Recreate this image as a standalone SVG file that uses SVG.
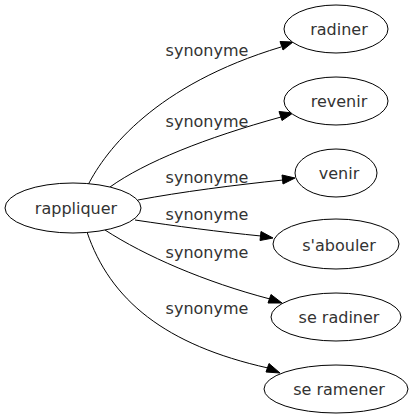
<svg xmlns="http://www.w3.org/2000/svg" width="412" height="419" viewBox="0 0 412 419">
<style>
.n ellipse{fill:#fff;stroke:#000;stroke-width:1}
text{font-family:"DejaVu Sans",sans-serif;font-size:16px;fill:#333;text-anchor:middle}
.e path{fill:none;stroke:#000;stroke-width:1}
.e polygon{fill:#000;stroke:#000;stroke-width:1}
</style>
<rect width="412" height="419" fill="#fff"/>
<g id="edges" class="e">
<path d="M88,185 C106,150 155,85 281,47"/>
<polygon points="280,41.5 293,42 283,50"/>
<text x="207" y="56">synonyme</text>
<path d="M110,187 C145,162 205,138 281,117"/>
<polygon points="279,111.5 293,113 282,120.5"/>
<text x="207" y="127">synonyme</text>
<path d="M138,200 C180,192 235,185 283,180"/>
<polygon points="282,175 295,178 283,184"/>
<text x="207" y="183">synonyme</text>
<path d="M135,220 C175,226 220,232 261,236"/>
<polygon points="261,231.5 273,238 260,240.5"/>
<text x="207" y="220">synonyme</text>
<path d="M105,230 C145,256 205,282 270,299"/>
<polygon points="271,294.5 282,303 268,303"/>
<text x="207" y="258">synonyme</text>
<path d="M87,232 C110,300 165,345 268,368"/>
<polygon points="269,363.5 280,373 266,372"/>
<text x="207" y="314">synonyme</text>
</g>
<g id="rappliquer" class="n"><ellipse cx="73" cy="208" rx="68" ry="25"/><text x="76" y="214">rappliquer</text></g>
<g id="radiner" class="n"><ellipse cx="336" cy="29" rx="52" ry="24"/><text x="339" y="35">radiner</text></g>
<g id="revenir" class="n"><ellipse cx="336" cy="101" rx="52" ry="24"/><text x="339" y="107">revenir</text></g>
<g id="venir" class="n"><ellipse cx="336" cy="173" rx="41" ry="24"/><text x="339" y="179">venir</text></g>
<g id="sabouler" class="n"><ellipse cx="336" cy="244" rx="63" ry="25"/><text x="339" y="251">s'abouler</text></g>
<g id="seradiner" class="n"><ellipse cx="336" cy="317" rx="65" ry="24"/><text x="339" y="323">se radiner</text></g>
<g id="seramener" class="n"><ellipse cx="336" cy="389" rx="72" ry="24"/><text x="339" y="395">se ramener</text></g>
</svg>
